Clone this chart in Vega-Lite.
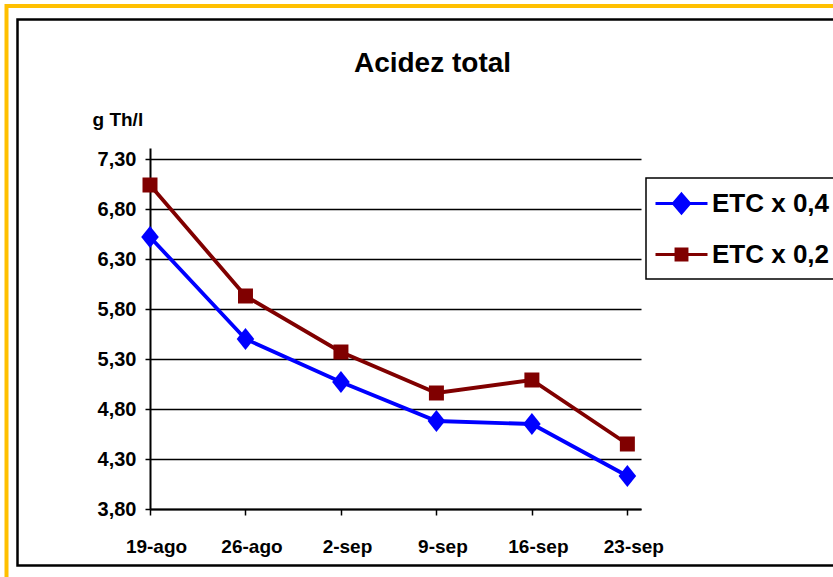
{
  "$schema": "https://vega.github.io/schema/vega-lite/v6.json",
  "width": 491,
  "height": 361,
  "autosize": {"type": "none"},
  "padding": {"left": 150, "top": 148, "right": 192, "bottom": 68},
  "background": "white",
  "title": {
    "text": "Acidez total",
    "anchor": "middle",
    "dx": 37,
    "dy": 96,
    "offset": 0,
    "baseline": "alphabetic",
    "font": "Liberation Sans",
    "fontSize": 28,
    "fontWeight": "bold",
    "color": "black"
  },
  "datasets": {
    "acidez": [
      {"fecha": "2007-08-19", "serie": "ETC x 0,4", "acidez": 6.52},
      {"fecha": "2007-08-26", "serie": "ETC x 0,4", "acidez": 5.50},
      {"fecha": "2007-09-02", "serie": "ETC x 0,4", "acidez": 5.07},
      {"fecha": "2007-09-09", "serie": "ETC x 0,4", "acidez": 4.68},
      {"fecha": "2007-09-16", "serie": "ETC x 0,4", "acidez": 4.65},
      {"fecha": "2007-09-23", "serie": "ETC x 0,4", "acidez": 4.13},
      {"fecha": "2007-08-19", "serie": "ETC x 0,2", "acidez": 7.04},
      {"fecha": "2007-08-26", "serie": "ETC x 0,2", "acidez": 5.93},
      {"fecha": "2007-09-02", "serie": "ETC x 0,2", "acidez": 5.37},
      {"fecha": "2007-09-09", "serie": "ETC x 0,2", "acidez": 4.96},
      {"fecha": "2007-09-16", "serie": "ETC x 0,2", "acidez": 5.09},
      {"fecha": "2007-09-23", "serie": "ETC x 0,2", "acidez": 4.45}
    ]
  },
  "encoding": {
    "x": {
      "field": "fecha",
      "type": "temporal",
      "scale": {
        "type": "utc",
        "domain": [
          {"year": 2007, "month": 8, "date": 19, "utc": true},
          {"year": 2007, "month": 9, "date": 24, "utc": true}
        ]
      },
      "axis": {
        "title": null,
        "values": [
          {"year": 2007, "month": 8, "date": 19, "utc": true},
          {"year": 2007, "month": 8, "date": 26, "utc": true},
          {"year": 2007, "month": 9, "date": 2, "utc": true},
          {"year": 2007, "month": 9, "date": 9, "utc": true},
          {"year": 2007, "month": 9, "date": 16, "utc": true},
          {"year": 2007, "month": 9, "date": 23, "utc": true}
        ],
        "labelExpr": "utcFormat(datum.value, '%-d') + (utcmonth(datum.value) == 7 ? '-ago' : '-sep')",
        "grid": false,
        "domainColor": "black",
        "domainWidth": 2,
        "tickColor": "black",
        "tickWidth": 1.5,
        "tickSize": 6,
        "labelPadding": 22,
        "labelOffset": 6,
        "labelFontSize": 19,
        "labelFlush": false,
        "labelOverlap": false
      }
    },
    "y": {
      "field": "acidez",
      "type": "quantitative",
      "scale": {"domain": [3.8, 7.41], "zero": false, "nice": false},
      "axis": {
        "title": "g Th/l",
        "titleAngle": 0,
        "titleX": -58,
        "titleY": -23,
        "titleAlign": "left",
        "titleBaseline": "alphabetic",
        "titleFontSize": 19,
        "values": [3.8, 4.3, 4.8, 5.3, 5.8, 6.3, 6.8, 7.3],
        "labelExpr": "replace(format(datum.value, '.2f'), '.', ',')",
        "grid": true,
        "gridColor": "black",
        "gridWidth": 1.5,
        "gridOpacity": 1,
        "domainColor": "black",
        "domainWidth": 2,
        "tickColor": "black",
        "tickWidth": 1.5,
        "tickSize": 5,
        "labelPadding": 9,
        "labelFontSize": 20
      }
    },
    "color": {
      "field": "serie",
      "type": "nominal",
      "scale": {"domain": ["ETC x 0,4", "ETC x 0,2"], "range": ["#0000FF", "#800000"]},
      "legend": {
        "title": null,
        "orient": "none",
        "legendX": 496,
        "legendY": 30,
        "padding": 11,
        "rowPadding": 21,
        "symbolSize": 676,
        "symbolOffset": 10,
        "symbolStrokeWidth": 3,
        "labelOffset": 16,
        "labelFontSize": 26,
        "labelFontWeight": "bold",
        "labelColor": "black",
        "labelLimit": 400,
        "strokeColor": "black",
        "encode": {
          "legend": {
            "update": {
              "strokeWidth": {"value": 1.5}
            }
          },
          "symbols": {
            "update": {
              "shape": {"signal": "datum.value === 'ETC x 0,4' ? 'M-2,0H2M0,-0.72L0.62,0L0,0.72L-0.62,0Z' : 'M-2,0H2M-0.42,-0.42H0.42V0.42H-0.42Z'"},
              "fill": {"signal": "scale('color', datum.value)"},
              "stroke": {"signal": "scale('color', datum.value)"},
              "strokeWidth": {"value": 3},
              "size": {"value": 676},
              "opacity": {"value": 1},
              "fillOpacity": {"value": 1},
              "strokeOpacity": {"value": 1}
            }
          }
        }
      }
    }
  },
  "layer": [
    {
      "data": {"values": [{}]},
      "mark": {"type": "rect", "fill": null, "stroke": "#FFC000", "strokeWidth": 4},
      "encoding": {
        "x": {"value": -143.5},
        "y": {"value": -142},
        "x2": {"value": 700},
        "y2": {"value": 450},
        "color": null
      }
    },
    {
      "data": {"values": [{}]},
      "mark": {"type": "rect", "fill": null, "stroke": "black", "strokeWidth": 2.5},
      "encoding": {
        "x": {"value": -132.5},
        "y": {"value": -128.5},
        "x2": {"value": 700},
        "y2": {"value": 417.5},
        "color": null
      }
    },
    {
      "data": {"name": "acidez"},
      "mark": {"type": "line", "strokeWidth": 3.8}
    },
    {
      "data": {"name": "acidez"},
      "transform": [{"filter": "datum.serie === 'ETC x 0,4'"}],
      "mark": {"type": "point", "filled": true, "opacity": 1, "strokeWidth": 0, "shape": "M0,-1L0.8,0L0,1L-0.8,0Z", "size": 484}
    },
    {
      "data": {"name": "acidez"},
      "transform": [{"filter": "datum.serie === 'ETC x 0,2'"}],
      "mark": {"type": "point", "filled": true, "opacity": 1, "strokeWidth": 0, "shape": "square", "size": 225}
    }
  ],
  "config": {
    "view": {"stroke": null},
    "font": "Liberation Sans",
    "axis": {
      "labelFont": "Liberation Sans",
      "labelFontWeight": "bold",
      "labelColor": "black",
      "titleFont": "Liberation Sans",
      "titleFontWeight": "bold",
      "titleColor": "black"
    },
    "legend": {"labelFont": "Liberation Sans"}
  }
}
